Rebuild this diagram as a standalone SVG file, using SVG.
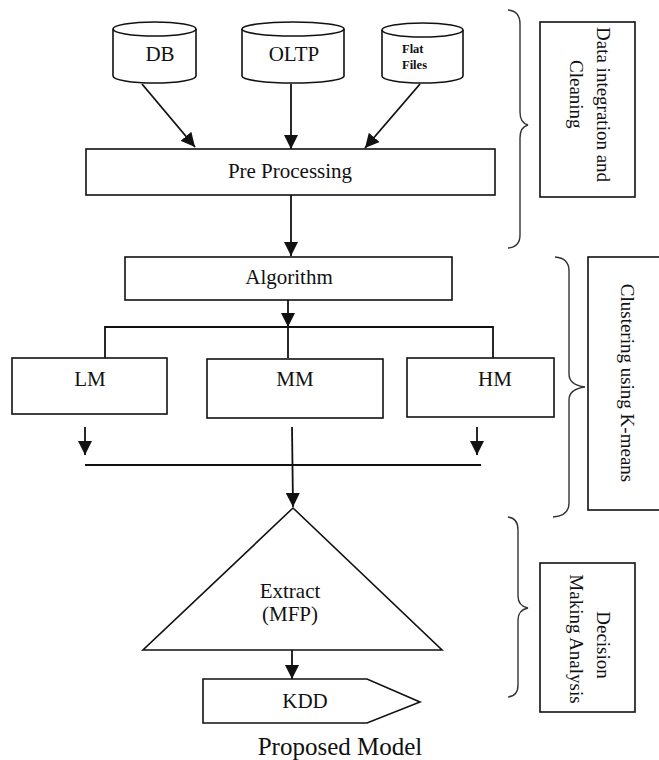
<svg xmlns="http://www.w3.org/2000/svg" width="659" height="760" viewBox="0 0 659 760">
<style>
.s{fill:#fff;stroke:#111;stroke-width:1.6}
.l{fill:none;stroke:#111;stroke-width:1.8}
.b{fill:none;stroke:#333;stroke-width:1.4}
.t{font-family:"Liberation Serif","Times New Roman",serif;font-size:21px;fill:#111;text-anchor:middle}
.r{font-family:"Liberation Serif","Times New Roman",serif;font-size:19px;fill:#111}
</style>
<defs>
<marker id="ah" markerUnits="userSpaceOnUse" markerWidth="14" markerHeight="14" viewBox="0 0 14 14" refX="14" refY="7" orient="auto">
<path d="M0,0 L14,7 L0,14 z" fill="#111"/>
</marker>
</defs>
<rect width="659" height="760" fill="#fff"/>

<g id="connectors">
<line class="l" x1="142" y1="84" x2="195" y2="147" marker-end="url(#ah)"/>
<line class="l" x1="291" y1="84" x2="291" y2="149" marker-end="url(#ah)"/>
<line class="l" x1="420" y1="84" x2="365" y2="148" marker-end="url(#ah)"/>
<line class="l" x1="291" y1="195" x2="291" y2="256" marker-end="url(#ah)"/>
<line class="l" x1="288" y1="300" x2="288" y2="327" marker-end="url(#ah)"/>
<polyline class="l" points="105,358 105,327 493,327 493,358"/>
<line class="l" x1="288" y1="327" x2="288" y2="358"/>
<line class="l" x1="85" y1="427" x2="85" y2="455" marker-end="url(#ah)"/>
<line class="l" x1="477" y1="427" x2="477" y2="455" marker-end="url(#ah)"/>
<line class="l" x1="85" y1="465" x2="481" y2="465"/>
<line class="l" x1="292" y1="427" x2="293" y2="507" marker-end="url(#ah)"/>
<line class="l" x1="292" y1="640" x2="292" y2="679" marker-end="url(#ah)"/>
</g>

<g id="db">
<path class="s" d="M113,29 L113,76 A41.5,7 0 0 0 196,76 L196,29"/>
<ellipse class="s" cx="154.5" cy="29" rx="41.5" ry="7"/>
<text class="t" x="160" y="61">DB</text>
</g>
<g id="oltp">
<path class="s" d="M242,29 L242,76 A51,7 0 0 0 344,76 L344,29"/>
<ellipse class="s" cx="293" cy="29" rx="51" ry="7"/>
<text class="t" x="294" y="61">OLTP</text>
</g>
<g id="flatfiles">
<path class="s" d="M382,30 L382,76 A40.5,7 0 0 0 463,76 L463,30"/>
<ellipse class="s" cx="422.5" cy="30" rx="40.5" ry="7"/>
<text font-family="Liberation Serif, Times New Roman, serif" font-size="12.5" font-weight="bold" fill="#111" x="402" y="53">Flat</text>
<text font-family="Liberation Serif, Times New Roman, serif" font-size="12.5" font-weight="bold" fill="#111" x="402" y="69">Files</text>
</g>

<g id="preprocessing">
<rect class="s" x="86" y="149" width="409" height="46"/>
<text class="t" x="290" y="178">Pre Processing</text>
</g>
<g id="algorithm">
<rect class="s" x="125" y="257" width="327" height="43"/>
<text class="t" x="289" y="284">Algorithm</text>
</g>
<g id="lm">
<rect class="s" x="12" y="358" width="155" height="56"/>
<text class="t" x="90" y="386">LM</text>
</g>
<g id="mm">
<rect class="s" x="207" y="359" width="176" height="59"/>
<text class="t" x="295" y="386">MM</text>
</g>
<g id="hm">
<rect class="s" x="407" y="358" width="147" height="59"/>
<text class="t" x="495" y="386">HM</text>
</g>
<g id="extract">
<polygon class="s" points="293,508 143,650 442,650"/>
<text class="t" x="290" y="598">Extract</text>
<text class="t" x="290" y="621">(MFP)</text>
</g>
<g id="kdd">
<polygon class="s" points="203,679 367,679 420,702 367,723 203,723"/>
<text class="t" x="305" y="708">KDD</text>
</g>

<g id="brace1">
<path class="b" d="M508,10 Q520,11 520,24 L520,112 Q520,123 528,125 Q520,127 520,138 L520,235 Q520,247 508,248"/>
</g>
<g id="stage1">
<rect class="s" x="540" y="22" width="95" height="175"/>
<text class="r" transform="translate(597,27) rotate(90)">Data integration and</text>
<text class="r" transform="translate(570,60) rotate(90)">Cleaning</text>
</g>
<g id="brace2">
<path class="b" d="M555,257 Q569,258 569,271 L569,374 Q569,385 585,387 Q569,389 569,400 L569,503 Q569,516 553,517"/>
</g>
<g id="stage2">
<rect class="s" x="588" y="257" width="75" height="253"/>
<text class="r" text-anchor="middle" font-size="20" transform="translate(621,383) rotate(90)">Clustering using K-means</text>
</g>
<g id="brace3">
<path class="b" d="M508,517 Q518,518 518,530 L518,596 Q518,606 528,608 Q518,610 518,620 L518,685 Q518,696 508,697"/>
</g>
<g id="stage3">
<rect class="s" x="540" y="563" width="95" height="149"/>
<text class="r" text-anchor="middle" transform="translate(597,645) rotate(90)">Decision</text>
<text class="r" text-anchor="middle" transform="translate(570,639) rotate(90)">Making Analysis</text>
</g>

<text id="caption" font-family="Liberation Serif, Times New Roman, serif" font-size="25" fill="#111" text-anchor="middle" x="340" y="755">Proposed Model</text>
</svg>
